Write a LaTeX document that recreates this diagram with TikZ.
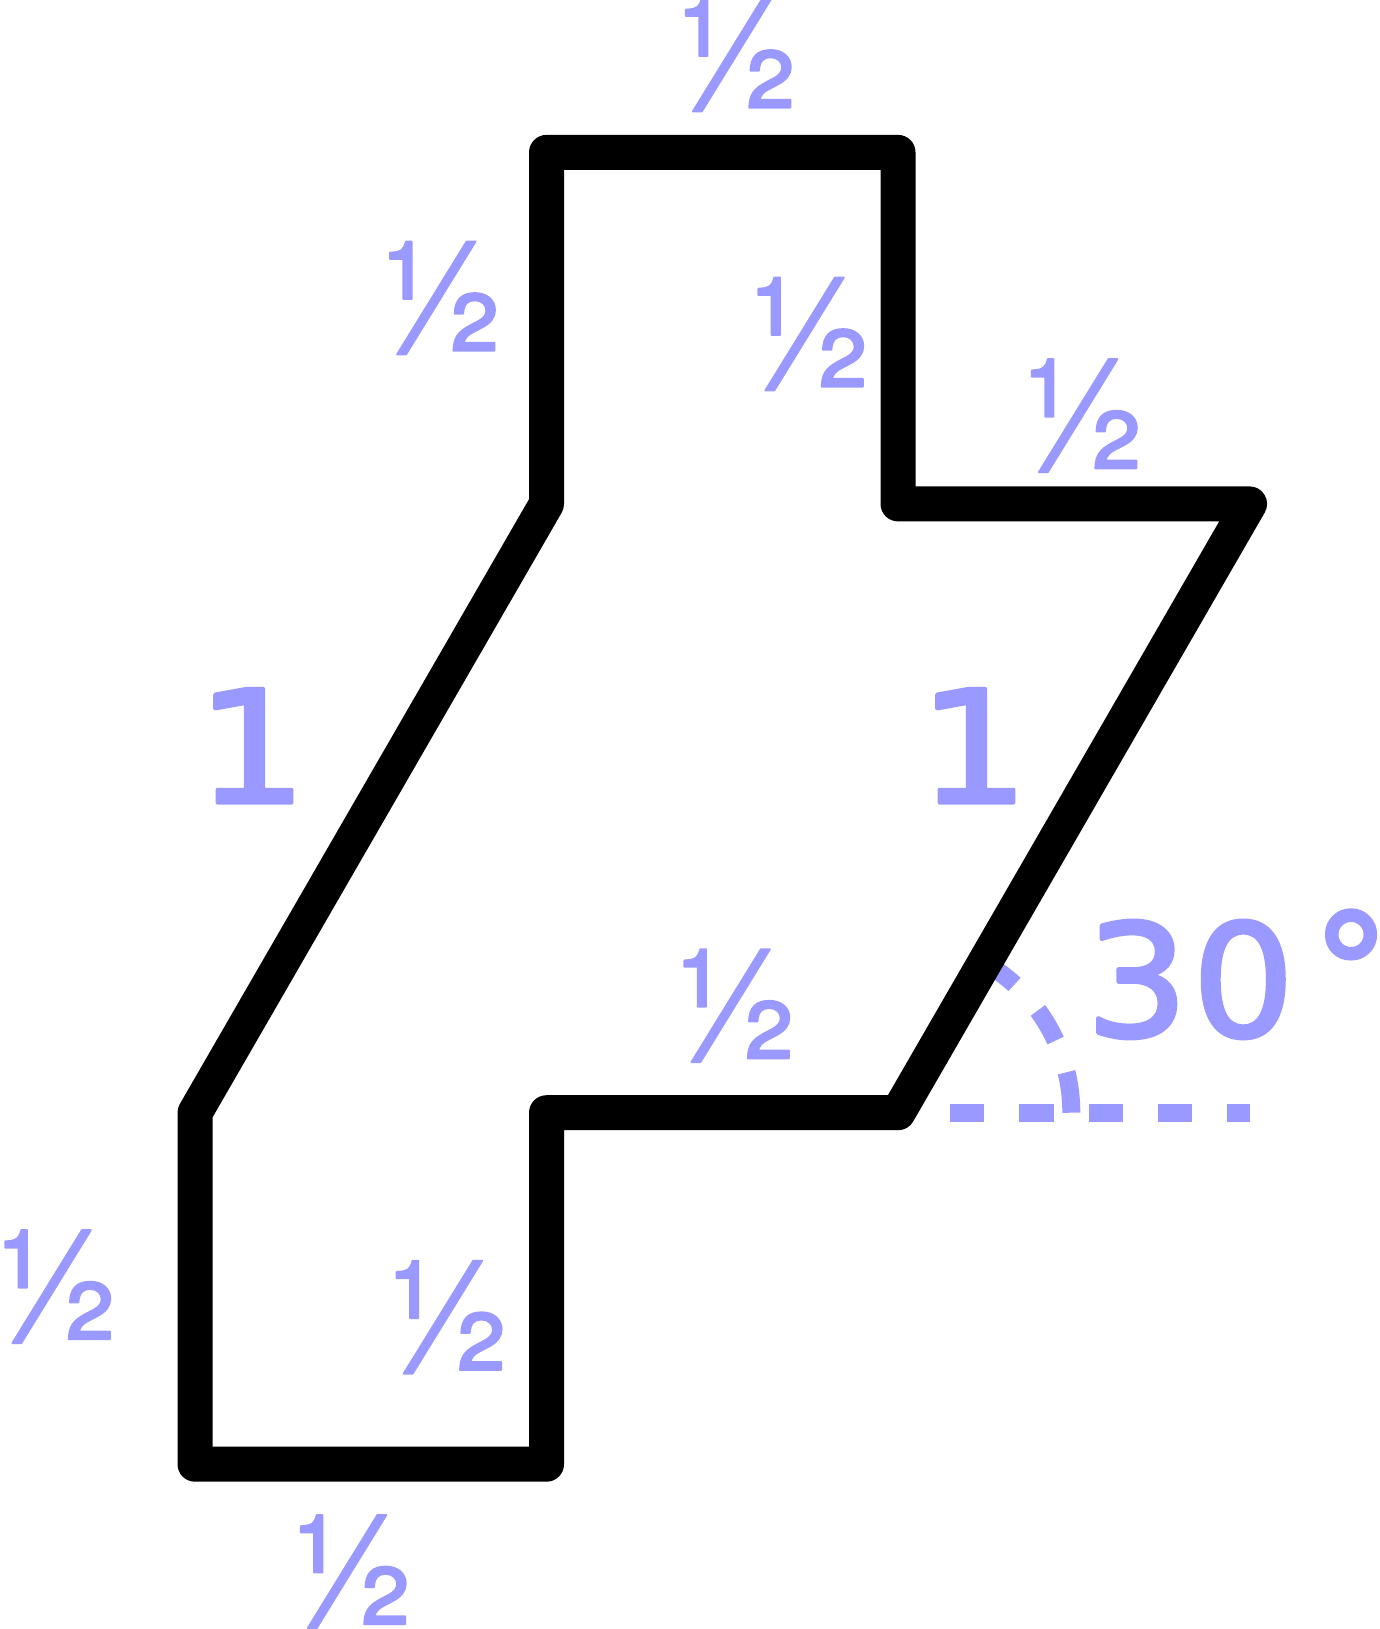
\documentclass[tikz,border=0pt]{standalone}
\usepackage{fontspec}
\usepackage{graphicx}
\setmainfont[FakeBold=1.2]{TeX Gyre Heros}
\newfontfamily\numfont[FakeBold=2.5]{DejaVu Sans}
\definecolor{lbl}{RGB}{153,153,255}
\begin{document}
\begin{tikzpicture}[x=351.5pt,y=351.5pt,
  outline/.style={draw=black,line width=17.5pt,line join=round},
  half/.style={text=lbl,inner sep=0pt,line join=round,font=\fontsize{77}{77}\selectfont},
  unitlbl/.style={text=lbl,inner sep=0pt,line join=round,font=\numfont\fontsize{78}{78}\selectfont},
  angleline/.style={draw=lbl,line width=9pt}]
\useasboundingbox (-0.2774,-0.2344) rectangle (1.6842,2.0828);
\coordinate (A) at (0,0);
\coordinate (B) at (0.5,0);
\coordinate (C) at (0.5,0.5);
\coordinate (D) at (1,0.5);
\coordinate (E) at (1.5,1.366);
\coordinate (F) at (1,1.366);
\coordinate (G) at (1,1.866);
\coordinate (H) at (0.5,1.866);
\coordinate (I) at (0.5,1.366);
\coordinate (J) at (0,0.5);
\coordinate (R0) at (1.074,0.5);
\coordinate (R1) at (1.5,0.5);
% angle marks
\draw[angleline,dash pattern=on 17.15pt off 17.5pt] (R0) -- (R1);
\draw[angleline,dash pattern=on 20.4pt off 16.8pt on 17.5pt off 17.5pt on 17.5pt off 60pt]
  (D) ++(0:0.2465) arc[start angle=0,end angle=60,radius=0.2465];
% outline
\draw[outline] (A) -- (B) -- (C) -- (D) -- (E) -- (F) -- (G) -- (H) -- (I) -- (J) -- cycle;
% labels
\node[half] (l1) at (0.7717,2.0046) {½};
\node[half] (l2) at (0.3509,1.6589) {½};
\node[half] (l3) at (0.8748,1.6077) {½};
\node[half] (l4) at (1.2639,1.4915) {½};
\node[half] (l5) at (0.7696,0.6522) {½};
\node[half] (l6) at (-0.1963,0.2526) {½};
\node[half] (l7) at (0.3603,0.2091) {½};
\node[half] (l8) at (0.2240,-0.1526) {½};
\node[unitlbl] (u1) at (0.0807,1.0219) {\scalebox{1.12}[1]{1}};
\node[unitlbl] (u2) at (1.1077,1.0219) {\scalebox{1.12}[1]{1}};
\node[unitlbl] (ang) at (1.4157,0.6895) {\scalebox{1.03}[1]{3\kern2pt0}};
\node[unitlbl,anchor=north] (deg) at (1.6444,0.7886) {°};
\end{tikzpicture}
\end{document}
